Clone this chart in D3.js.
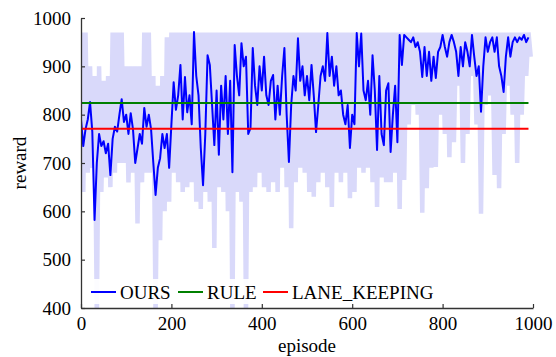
<!DOCTYPE html>
<html><head><meta charset="utf-8">
<script src="https://cdn.jsdelivr.net/npm/d3@7"></script>
<style>
html,body{margin:0;padding:0;background:#fff;}
text{font-family:"Liberation Serif","Times New Roman",serif;}
</style></head>
<body><svg id="chart" width="556" height="357"></svg>
<script>
// smoothed reward (OURS), every 5 episodes from 0 to 990
const ourEpisodeStep = 5;
const oursValues = [
790,735,770,790,826,765,582,700,760,735,745,720,740,675,750,775,765,800,832,785,
800,760,803,770,700,730,760,740,814,775,800,770,700,634,690,710,760,731,760,690,
780,867,810,840,903,790,878,805,840,780,971,880,840,731,654,760,923,903,820,737,
850,717,860,790,880,760,870,681,944,880,840,948,900,920,760,772,938,860,820,900,
850,920,840,820,870,882,790,860,800,880,938,800,702,820,880,850,958,870,900,840,
880,830,903,840,764,820,880,900,870,969,880,920,860,900,840,850,800,780,820,731,
800,780,969,900,968,850,830,870,800,923,850,727,880,760,737,850,865,723,800,860,
743,965,903,965,960,955,950,960,940,950,930,878,940,880,930,870,920,876,930,940,
965,940,920,950,965,950,930,880,940,900,950,930,900,965,920,880,900,806,900,960,
930,950,960,930,960,900,880,847,920,960,920,950,960,950,960,955,965,950,960
];
// raw reward envelope per 10-episode bin (top / bottom of the light trace)
const rawBinStep = 10;
const rawTop = [
970,970,900,880,900,870,880,970,970,970,900,900,900,900,970,970,880,860,880,960,
970,970,970,970,970,970,970,970,970,970,970,970,970,970,970,970,970,970,970,970,
970,970,970,970,970,970,970,970,970,970,970,970,970,970,970,970,970,970,970,970,
970,970,970,970,970,970,970,970,970,970,970,970,970,970,970,970,970,970,970,970,
970,970,970,970,970,970,970,970,970,970,970,970,970,970,970,970,970,970,970,970
];
const rawBottom = [
640,680,690,380,640,670,650,680,700,700,660,680,575,660,680,680,380,540,600,620,
680,660,640,650,660,620,605,640,620,524,650,640,600,380,640,620,380,640,650,680,
650,640,660,640,690,650,565,660,690,680,640,630,660,680,650,609,680,660,680,627,
640,690,680,690,660,609,670,660,660,680,605,665,780,820,800,597,648,690,692,800,
760,712,743,860,700,760,880,780,595,820,840,675,648,760,860,800,700,800,880,920
];
// baselines
const ruleValue = 824;
const laneKeepingValue = 771;
const baselineEpisodes = [0, 990];
// axes
const xTicks = [0, 200, 400, 600, 800, 1000];
const yTicks = [400, 500, 600, 700, 800, 900, 1000];
const legendLabels = ["OURS", "RULE", "LANE_KEEPING"];
const seriesColors = ["#0000ff", "#008000", "#ff0000"];

const FONT = '"Liberation Serif", "Times New Roman", serif';
const svg = d3.select("#chart");
const pL = 81, pR = 533, pT = 18, pB = 308;
const x = d3.scaleLinear().domain([0, 1000]).range([pL, pR]);
const y = d3.scaleLinear().domain([400, 1000]).range([pB, pT]);

svg.append("defs").append("clipPath").attr("id", "clip")
  .append("rect").attr("x", pL).attr("y", pT - 2).attr("width", pR - pL).attr("height", pB - pT + 2);

const plot = svg.append("g").attr("clip-path", "url(#clip)");

// light raw trace as zigzag through bin tops and bottoms
const rawPts = [];
rawTop.forEach((t, i) => {
  rawPts.push([i * rawBinStep, t]);
  rawPts.push([i * rawBinStep + rawBinStep / 2, rawBottom[i]]);
});
plot.append("path")
  .datum(rawPts)
  .attr("fill", "none")
  .attr("stroke", "#d9d9fa")
  .attr("stroke-width", 4.5)
  .attr("stroke-linejoin", "bevel")
  .attr("d", d3.line().x(d => x(d[0])).y(d => y(d[1])));

// OURS smoothed
plot.append("path")
  .datum(oursValues.map((v, i) => [i * ourEpisodeStep, v]))
  .attr("fill", "none")
  .attr("stroke", seriesColors[0])
  .attr("stroke-width", 2)
  .attr("stroke-linejoin", "round")
  .attr("d", d3.line().x(d => x(d[0])).y(d => y(d[1])));

// baselines
[[ruleValue, seriesColors[1]], [laneKeepingValue, seriesColors[2]]].forEach(([v, c]) => {
  plot.append("path")
    .datum(baselineEpisodes.map(e => [e, v]))
    .attr("fill", "none").attr("stroke", c).attr("stroke-width", 2)
    .attr("d", d3.line().x(d => x(d[0])).y(d => y(d[1])));
});

// axes
const xAxis = svg.append("g").attr("transform", `translate(0,${pB})`)
  .call(d3.axisBottom(x).tickValues(xTicks).tickFormat(d3.format("d"))
    .tickSize(-4).tickPadding(9).tickSizeOuter(0));
const yAxis = svg.append("g").attr("transform", `translate(${pL},0)`)
  .call(d3.axisLeft(y).tickValues(yTicks).tickFormat(d3.format("d"))
    .tickSize(-4).tickPadding(10).tickSizeOuter(0));
[xAxis, yAxis].forEach(a => {
  a.attr("font-family", FONT).attr("font-size", 19);
  a.selectAll("path").attr("stroke", "#333").attr("stroke-width", 1.3);
  a.selectAll("line").attr("stroke", "#333").attr("stroke-width", 1.2);
  a.selectAll("text").attr("fill", "#000").style("font-size", "19px").style("font-family", FONT);
});

svg.append("text").attr("x", (pL + pR) / 2).attr("y", 352)
  .attr("text-anchor", "middle").style("font-size", "19px").style("font-family", FONT).text("episode");
svg.append("text").attr("transform", `translate(26,${(pT + pB) / 2}) rotate(-90)`)
  .attr("text-anchor", "middle").style("font-size", "19px").style("font-family", FONT).text("reward");

// legend
const leg = svg.append("g");
leg.append("rect").attr("x", 85).attr("y", 279).attr("width", 362).attr("height", 25)
  .attr("fill", "#fff").attr("opacity", 0.92);
const legX = [91, 178, 263];
legendLabels.forEach((l, i) => {
  leg.append("line").attr("x1", legX[i]).attr("x2", legX[i] + 25)
    .attr("y1", 292).attr("y2", 292).attr("stroke", seriesColors[i]).attr("stroke-width", 2);
  leg.append("text").attr("x", legX[i] + 29).attr("y", 298.5)
    .style("font-size", "19px").style("font-family", FONT).text(l);
});
</script></body></html>
